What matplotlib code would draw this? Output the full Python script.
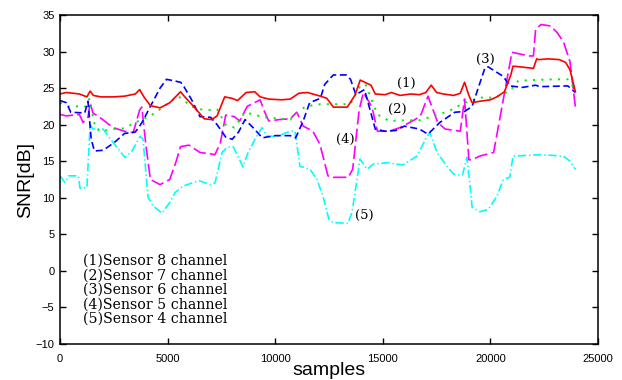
import matplotlib
matplotlib.use("Agg")
import matplotlib.pyplot as plt

# ---- data ----
s8_x = [0, 300, 900, 1250, 1400, 1550, 1900, 2500, 3000, 3500, 3700, 3900, 4200, 4650, 5100, 5600, 5800,
        6300, 6700, 7050, 7300, 7650, 8000, 8250, 8650, 9050, 9300, 9700, 10300, 10700, 11100, 11500, 12100,
        12400, 12700, 13350, 13700, 13950, 14300, 14450, 14650, 15100, 15400, 15800, 16300, 16700, 17000,
        17250, 17500, 17800, 18300, 18600, 18800, 19000, 19150, 19500, 20000, 20300, 20650, 20950, 21050,
        21400, 22000, 22150, 22250, 22700, 23200, 23500, 23700, 23950]
s8_y = [24.2, 24.4, 24.2, 23.8, 24.6, 24.0, 23.8, 23.8, 23.9, 24.2, 24.8, 23.8, 22.6, 22.3, 23.0, 24.5, 23.8,
        22.2, 20.8, 20.7, 21.2, 23.8, 23.6, 23.3, 24.4, 24.5, 23.8, 23.5, 23.4, 23.5, 24.3, 24.4, 23.9,
        23.6, 22.4, 22.4, 24.0, 26.1, 25.6, 25.4, 24.2, 24.1, 24.4, 24.0, 24.2, 24.1, 24.4,
        25.4, 24.4, 24.2, 24.0, 24.3, 25.8, 24.0, 23.0, 23.2, 23.4, 23.8, 24.5, 26.8, 28.0,
        27.9, 27.7, 29.0, 28.9, 29.0, 28.9, 28.5, 27.5, 24.5]

s7_x = [0, 400, 1200, 1350, 1650, 1900, 2500, 3000, 3500, 4200, 4650, 5300, 5500, 6100, 6500, 7000, 7300,
        7700, 8100, 8600, 9500, 10700, 11400, 12100, 13000, 13500, 13950, 14200, 14750, 15300, 16000, 16700,
        17600, 18100, 18800, 19500, 20200, 20900, 21300, 22000, 23000, 23600, 23950]
s7_y = [23.0, 22.5, 22.5, 23.5, 19.5, 19.1, 19.4, 19.5, 20.3, 21.2, 22.1, 23.5, 23.9, 22.5, 22.1, 22.0, 22.1,
        20.0, 19.6, 21.7, 21.0, 20.7, 22.5, 22.8, 22.8, 22.8, 25.3, 25.5, 21.4, 20.5, 20.6, 20.6,
        21.4, 21.9, 23.0, 23.7, 23.7, 24.6, 26.0, 26.1, 26.2, 26.2, 24.8]

s6_x = [0, 300, 500, 1150, 1300, 1450, 1600, 2000, 2500, 3000, 3500, 3700, 3850, 4200, 4650, 4950, 5300,
        5600, 5700, 6100, 6500, 7000, 7300, 7700, 8000, 8300, 8600, 9000, 9400, 10000, 10700, 10950, 11300,
        11600, 12100, 12300, 12700, 13300, 13500, 13750, 14150, 14650, 15100, 15600, 16000, 16700, 17100,
        17650, 18350, 18800, 19150, 19750, 19900, 20600, 20900, 21500, 22100, 22300, 23600, 23950]
s6_y = [23.3, 23.0, 21.7, 21.6, 23.2, 18.0, 16.4, 16.5, 17.5, 18.8, 19.0, 19.8, 20.5, 22.5, 25.0, 26.2, 26.0,
        25.8, 25.5, 23.5, 21.1, 21.0, 20.0, 18.3, 18.0, 19.0, 20.7, 19.5, 18.2, 18.5, 18.5, 18.2, 20.5,
        23.0, 23.6, 25.5, 26.8, 26.8, 26.2, 24.1, 24.8, 19.4, 19.1, 19.2, 19.8, 19.4, 18.7,
        20.3, 21.7, 21.8, 22.5, 27.8, 27.9, 26.6, 25.3, 25.1, 25.4, 25.2, 25.3, 24.4]

s5_x = [0, 300, 900, 1070, 1300, 1400, 1530, 1850, 2460, 3000, 3400, 3700, 3800, 4000, 4200, 4650, 5100,
        5400, 5600, 6000, 6500, 7000, 7200, 7450, 7700, 8100, 8350, 8700, 9300, 9500, 9700, 10200, 10700,
        11000, 11300, 11500, 11750, 12080, 12450, 12700, 13400, 13600, 13900, 14100, 14500, 14750, 15300,
        15800, 16500, 16750, 17100, 17550, 17900, 18400, 18600, 18800, 19000, 19150, 19500, 20150, 21000,
        21800, 22000, 22100, 22350, 22800, 23100, 23400, 23700, 23950]
s5_y = [21.4, 21.2, 21.4, 20.3, 21.0, 23.0, 21.6, 21.0, 19.6, 19.1, 18.9, 22.0, 22.4, 17.0, 12.5, 11.8, 12.5,
        15.0, 17.0, 17.2, 16.2, 16.0, 15.9, 17.5, 21.3, 21.1, 20.5, 22.5, 23.4, 21.8, 20.5, 20.7, 20.8,
        21.7, 19.8, 19.5, 19.1, 17.3, 13.0, 12.8, 12.8, 13.9, 22.0, 24.4, 22.4, 19.1, 19.1,
        19.6, 20.7, 21.2, 23.9, 20.3, 19.4, 19.2, 19.1, 23.5, 15.2, 15.2, 15.7, 16.2, 29.9,
        29.4, 29.4, 33.0, 33.7, 33.5, 32.6, 31.3, 28.6, 22.4]

s4_x = [0, 230, 400, 850, 930, 1250, 1400, 1530, 2000, 2460, 3020, 3350, 3720, 3860, 4090, 4320, 4740, 5110,
        5340, 5720, 6410, 6500, 6970, 7200, 7530, 7760, 8040, 8270, 8500, 8740, 9060, 9390, 9620, 10080,
        10690, 10920, 11150, 11620, 11940, 12220, 12500, 12700, 13380, 13570, 13800, 13940, 14270, 14550,
        15200, 15650, 15940, 16590, 17050, 17190, 17520, 17980, 18300, 18700, 18910, 19050, 19150, 19500,
        19900, 20300, 20600, 20900, 21050, 21700, 22300, 23400, 23700, 23950]
s4_y = [13.0, 12.1, 13.0, 13.0, 11.3, 11.4, 20.0, 19.4, 19.4, 17.6, 15.5, 16.4, 18.4, 18.0, 10.1, 8.9, 7.9, 9.4,
        10.7, 11.6, 12.3, 12.3, 11.8, 12.0, 16.2, 16.9, 17.0, 15.7, 14.2, 16.2, 18.0, 19.6, 18.4, 18.4,
        19.1, 19.1, 14.3, 13.9, 12.5, 10.2, 7.0, 6.6, 6.5, 8.0, 12.5, 15.3, 13.9, 14.6,
        14.8, 14.6, 14.5, 15.7, 18.4, 18.9, 16.2, 14.3, 13.2, 13.1, 15.5, 11.8, 8.7, 8.1,
        8.4, 10.2, 12.5, 12.8, 15.7, 15.8, 15.9, 15.7, 15.0, 13.9]

legend_lines = ["(1)Sensor 8 channel", "(2)Sensor 7 channel", "(3)Sensor 6 channel",
                "(4)Sensor 5 channel", "(5)Sensor 4 channel"]
curve_tags = ["(1)", "(2)", "(3)", "(4)", "(5)"]
tag_x = [16080, 15660, 19750, 13240, 14130]
tag_y = [25.6, 22.1, 28.9, 18.0, 7.6]

xticks = [0, 5000, 10000, 15000, 20000, 25000]
yticks = [-10, -5, 0, 5, 10, 15, 20, 25, 30, 35]

# ---- drawing ----
plt.rcParams['font.family'] = ['Liberation Sans', 'DejaVu Sans']
plt.rcParams['lines.scale_dashes'] = False

fig = plt.figure(figsize=(6.22, 3.80), dpi=100)
ax = fig.add_axes([60/622, 1-344/380, (598-60)/622, (344-15)/380])

lw = 1.2
ax.plot(s4_x, s4_y, color='#00ffff', lw=lw, dashes=(6, 2, 1, 2))
ax.plot(s5_x, s5_y, color='#ff00ff', lw=lw, dashes=(9.5, 3))
ax.plot(s7_x, s7_y, color='#00ee00', lw=1.4, dashes=(1.5, 4.5))
ax.plot(s6_x, s6_y, color='#0000ff', lw=lw, dashes=(5, 2.6))
ax.plot(s8_x, s8_y, color='#ff0000', lw=lw)

ax.set_xlim(0, 25000)
ax.set_ylim(-10, 35)
ax.set_xticks(xticks)
ax.set_yticks(yticks)
ax.tick_params(direction='in', length=4, width=1, labelsize=8, top=True, right=True)
ax.tick_params(axis='x', pad=7)
ax.tick_params(axis='y', pad=4)
for sp in ax.spines.values():
    sp.set_linewidth(1.1)

ax.set_ylabel("SNR[dB]", fontsize=14, labelpad=1)
ax.set_xlabel("samples", fontsize=14, labelpad=-1)

serif = ['DejaVu Serif']
for t, x, y in zip(curve_tags, tag_x, tag_y):
    ax.text(x, y, t, family=serif, fontsize=9.5, ha='center', va='center')

for i, line in enumerate(legend_lines):
    ax.text(1070, 1.4 - i * 2.0, line, family=serif, fontsize=10.2, ha='left', va='center')

fig.savefig("out.png", dpi=100)
